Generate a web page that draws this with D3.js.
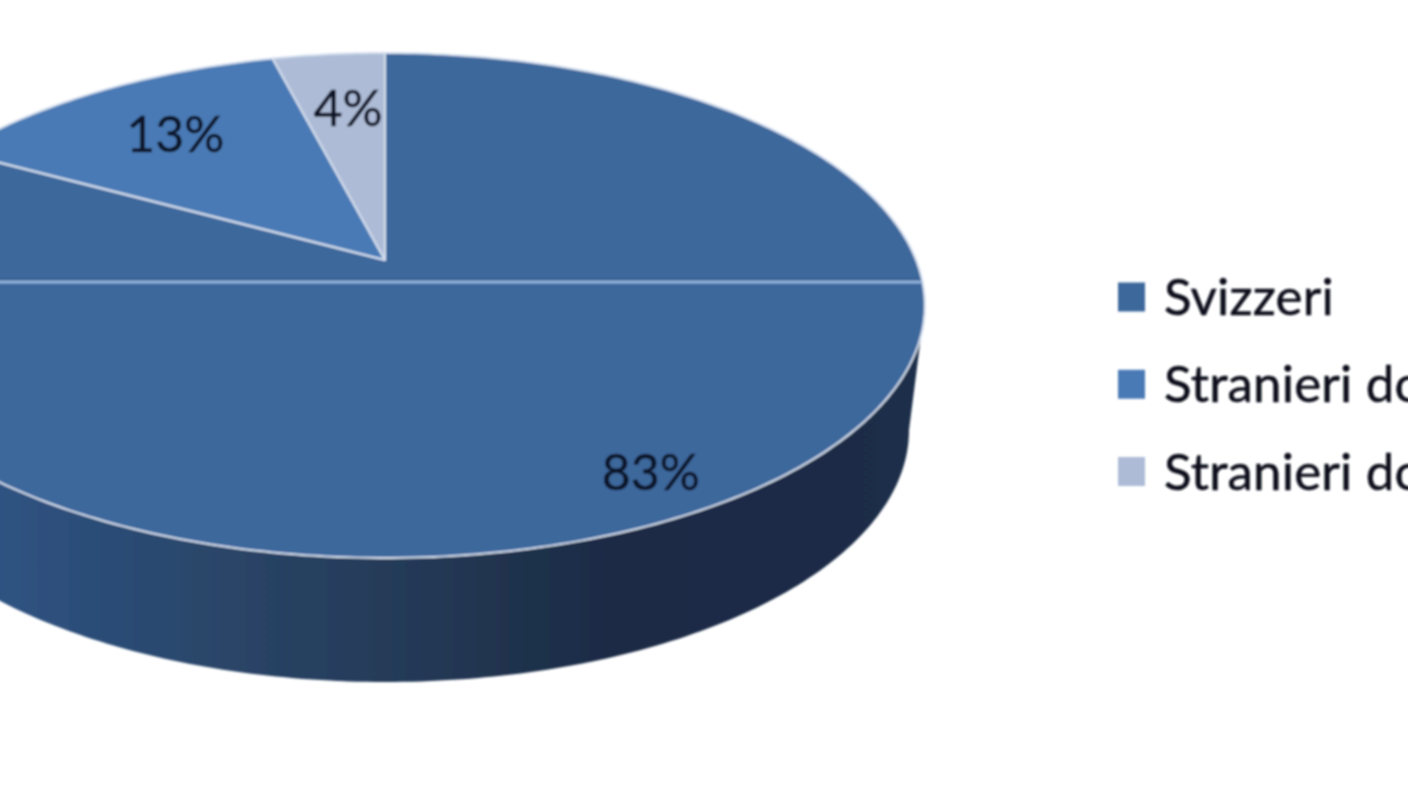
<!DOCTYPE html>
<html><head><meta charset="utf-8">
<style>html,body{margin:0;padding:0;background:#fff;overflow:hidden}svg{display:block}text{font-family:Lato,"Open Sans",sans-serif}</style>
<script src="https://cdn.jsdelivr.net/npm/d3@7"></script></head>
<body><svg id="c" width="1408" height="792"></svg>
<script>
const categories = ["Svizzeri", "Stranieri do", "Stranieri do"];
const shares = [83, 13, 4];
const colors = ["#3d689c", "#4a7ab5", "#adbbd6"];
const labelRadius = [0.87, 0.728, 0.71];
const labelShift = [-6, 5, 5];

const W = 1408, H = 792;
const cx = 385, cy = 260;           // image of the pie centre
const k = -0.18, A = 244.3, B = 531; // perspective of the pie disc
function project(angle, r) {
  const u = r * Math.sin(angle), v = -r * Math.cos(angle), d = 1 + k * v;
  return [cx + B * u / d, cy + A * v / d];
}
const svg = d3.select("#c");
const defs = svg.append("defs");
defs.append("filter").attr("id", "soft").attr("x", "-5%").attr("y", "-5%").attr("width", "110%").attr("height", "110%")
  .append("feGaussianBlur").attr("stdDeviation", 0.8);
const grad = defs.append("linearGradient").attr("id", "wall")
  .attr("gradientUnits", "userSpaceOnUse").attr("x1", 0).attr("x2", 900).attr("y1", 0).attr("y2", 0);
[[0, "#2e5382"], [0.25, "#2a4568"], [0.5, "#233753"], [0.68, "#1a2b45"], [1, "#1b2d48"]]
  .forEach(([o, c]) => grad.append("stop").attr("offset", o).attr("stop-color", c));

const root = svg.append("g").attr("filter", "url(#soft)");
const pie = d3.pie().sort(null)(shares);
const line = d3.line();

// side wall: lower ellipse joined to the top outline
const lower = { cx: 385, cy: 430, rx: 524, ry: 252 };
const lowerPts = d3.range(0, 181).map(i => {
  const t = i / 180 * Math.PI;
  return [lower.cx + lower.rx * Math.cos(t), lower.cy + lower.ry * Math.sin(t)];
});
root.append("path")
  .attr("d", line([[925, 305], ...lowerPts, [-155, 305]]) + "Z")
  .attr("fill", "url(#wall)");

// top surface
function slicePath(d) {
  const n = Math.max(8, Math.ceil((d.endAngle - d.startAngle) * 60));
  const pts = d3.range(n + 1).map(i => project(d.startAngle + (d.endAngle - d.startAngle) * i / n, 1));
  return line([project(0, 0), ...pts]) + "Z";
}
root.selectAll("path.slice").data(pie).join("path").attr("class", "slice")
  .attr("d", slicePath)
  .attr("fill", (d, i) => colors[i])
  .attr("stroke", "#d3deee").attr("stroke-width", 2).attr("stroke-linejoin", "round");

// horizontal seam on the large slice
const seamY = 282;
root.append("line").attr("x1", -170).attr("x2", 921).attr("y1", seamY - 2.5).attr("y2", seamY - 2.5)
  .attr("stroke", "#355c8c").attr("stroke-width", 2);
root.append("line").attr("x1", -170).attr("x2", 921).attr("y1", seamY).attr("y2", seamY)
  .attr("stroke", "#93b3dc").attr("stroke-width", 3);

// percent labels
root.selectAll("text.pct").data(pie).join("text").attr("class", "pct")
  .attr("x", (d, i) => project((d.startAngle + d.endAngle) / 2, labelRadius[i])[0] + labelShift[i])
  .attr("y", (d, i) => project((d.startAngle + d.endAngle) / 2, labelRadius[i])[1])
  .attr("text-anchor", "middle").attr("dominant-baseline", "central")
  .attr("font-size", 50).attr("fill", "#0a1228").attr("stroke", "#0a1228").attr("stroke-width", 0.5)
  .text(d => d.value + "%");

// legend
const legendY = d3.scalePoint().domain(d3.range(categories.length)).range([297, 471.5]);
const lg = root.selectAll("g.lg").data(categories).join("g").attr("class", "lg")
  .attr("transform", (d, i) => `translate(0,${legendY(i)})`);
lg.append("rect").attr("x", 1118).attr("y", -14.5).attr("width", 27).attr("height", 29)
  .attr("fill", (d, i) => colors[i]);
lg.append("text").attr("x", 1164).attr("y", 18).attr("font-size", 51).attr("letter-spacing", 0.2)
  .attr("fill", "#0c0f1c").attr("stroke", "#0c0f1c").attr("stroke-width", 0.5).text(d => d);
</script></body></html>
